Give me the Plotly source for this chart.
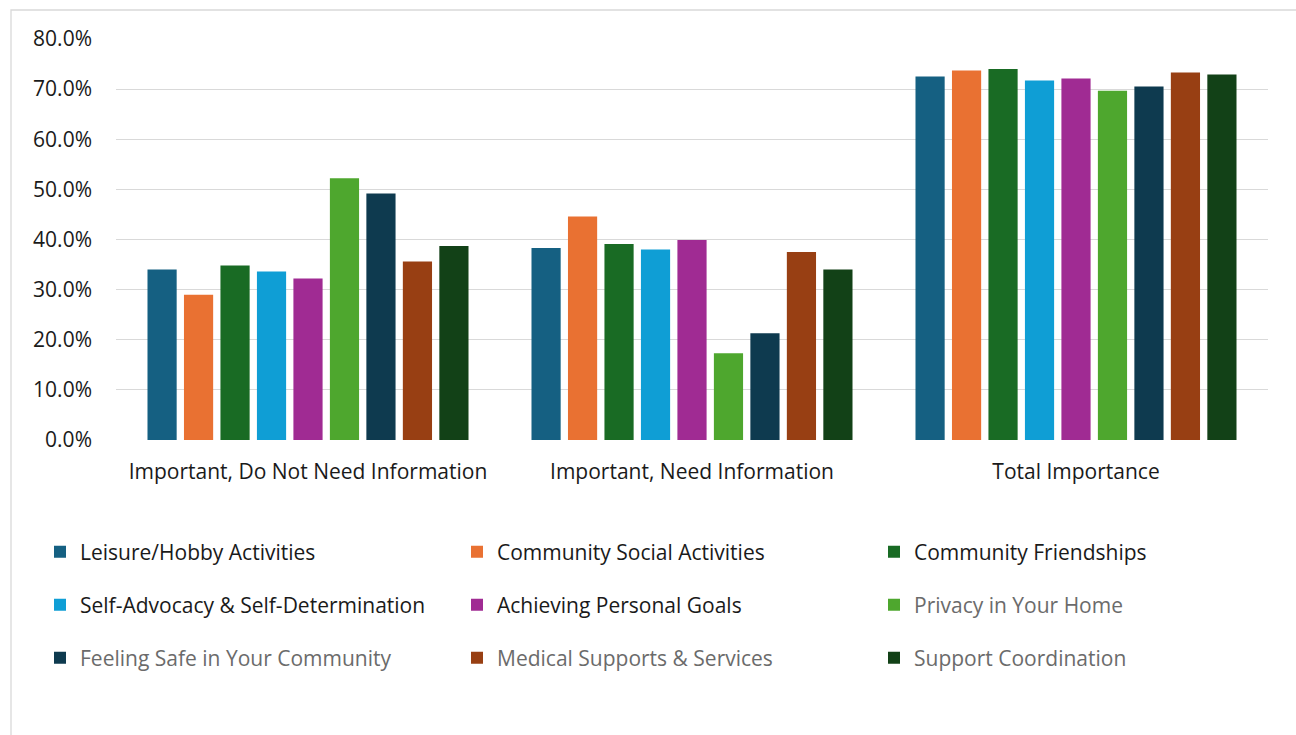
import plotly.graph_objects as go

# Response categories on the x axis
categories = [
    "Important, Do Not Need Information",
    "Important, Need Information",
    "Total Importance",
]

# Topic series (percent of respondents)
series_names = [
    "Leisure/Hobby Activities",
    "Community Social Activities",
    "Community Friendships",
    "Self-Advocacy & Self-Determination",
    "Achieving Personal Goals",
    "Privacy in Your Home",
    "Feeling Safe in Your Community",
    "Medical Supports & Services",
    "Support Coordination",
]

leisure_hobby = [34.0, 38.3, 72.5]
community_social = [29.0, 44.6, 73.7]
community_friendships = [34.8, 39.1, 74.0]
self_advocacy = [33.6, 38.0, 71.7]
personal_goals = [32.2, 39.9, 72.1]
privacy_home = [52.2, 17.3, 69.7]
feeling_safe = [49.2, 21.3, 70.5]
medical_supports = [35.6, 37.5, 73.3]
support_coordination = [38.7, 34.0, 72.9]

series_values = [
    leisure_hobby,
    community_social,
    community_friendships,
    self_advocacy,
    personal_goals,
    privacy_home,
    feeling_safe,
    medical_supports,
    support_coordination,
]

colors = [
    "#156082", "#E97132", "#196B24",
    "#0F9ED5", "#A02B93", "#4EA72E",
    "#0E3A4F", "#983F13", "#124117",
]

y_ticks = [0, 10, 20, 30, 40, 50, 60, 70, 80]

FONT = "Open Sans"
legend_text_colors = ["#1a1a1a"] * 5 + ["#6b6b6b"] * 4
legend_ids = ["legend", "legend2", "legend3"]

fig = go.Figure()
for i, (name, vals, col) in enumerate(zip(series_names, series_values, colors)):
    fig.add_trace(go.Bar(
        x=categories,
        y=vals,
        name=f"<span style='color:{legend_text_colors[i]}'>{name}</span>",
        marker=dict(color=col, line=dict(width=0)),
        legend=legend_ids[i // 3],
        hovertemplate=f"{name}<br>%{{x}}: %{{y:.1f}}%<extra></extra>",
    ))

# plot area geometry in pixels
W, H = 1296, 735
L, R, T, B = 116, 28, 39, 295
pw, ph = W - L - R, H - T - B


def px_x(x):
    return (x - L) / pw


def px_y(y):
    return (H - B - y) / ph


legend_common = dict(
    orientation="h",
    entrywidth=372,
    entrywidthmode="pixels",
    xanchor="left",
    yanchor="middle",
    x=px_x(40),
    font=dict(family=FONT, size=21, color="#1a1a1a"),
    bgcolor="rgba(0,0,0,0)",
    itemclick=False,
    itemdoubleclick=False,
    traceorder="normal",
)

fig.update_layout(
    width=W,
    height=H,
    margin=dict(l=L, r=R, t=T, b=B, autoexpand=False),
    paper_bgcolor="white",
    plot_bgcolor="white",
    barmode="group",
    bargap=0.145,
    bargroupgap=0.2,
    font=dict(family=FONT, size=21, color="#1a1a1a"),
    legend=dict(legend_common, y=px_y(552)),
    legend2=dict(legend_common, y=px_y(605)),
    legend3=dict(legend_common, y=px_y(658)),
    xaxis=dict(
        showgrid=False,
        showline=False,
        ticks="",
        ticklabelstandoff=17,
        tickfont=dict(family=FONT, size=21, color="#1a1a1a"),
    ),
    yaxis=dict(
        range=[0, 80],
        tickvals=y_ticks,
        ticktext=[f"{v:.1f}%" for v in y_ticks],
        showgrid=True,
        gridcolor="#D9D9D9",
        gridwidth=1.3,
        zeroline=False,
        showline=False,
        ticks="",
        ticklabelstandoff=23,
        tickfont=dict(family=FONT, size=21, color="#1a1a1a"),
    ),
    shapes=[
        # chart area border
        dict(
            type="rect", xref="paper", yref="paper",
            x0=px_x(11), x1=px_x(1310), y0=px_y(760), y1=px_y(10),
            line=dict(color="#D9D9D9", width=1.3),
            fillcolor="rgba(0,0,0,0)",
            layer="below",
        )
    ],
)

fig.write_html("out.html")
